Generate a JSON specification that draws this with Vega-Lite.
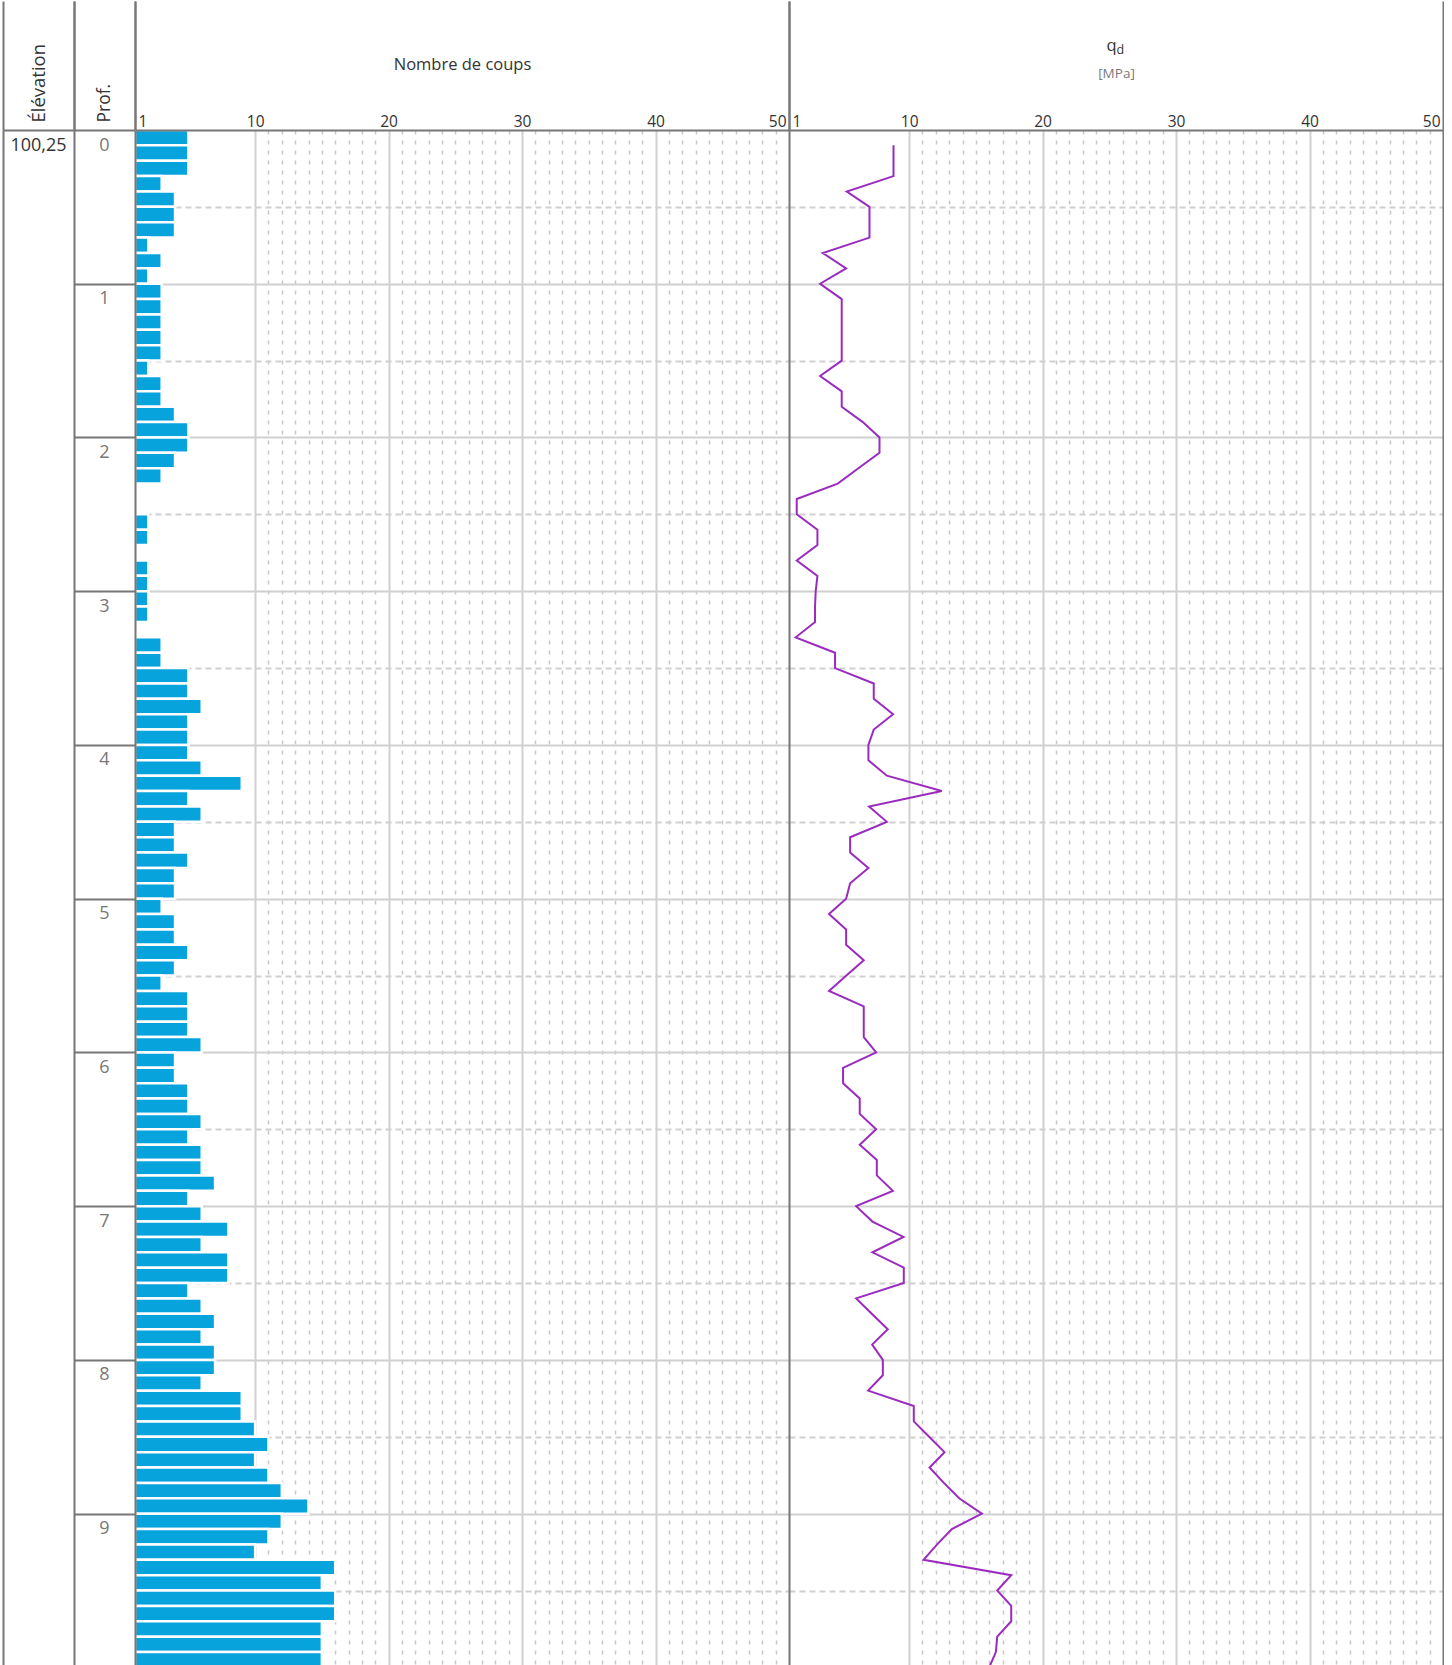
{
  "$schema": "https://vega.github.io/schema/vega-lite/v6.json",
  "padding": {"left": 2, "top": 0, "right": 0, "bottom": 0},
  "bounds": "flush",
  "spacing": 0,
  "config": {"view": {"stroke": null}, "font": "Open Sans", "axis": {"minExtent": 0}},
  "datasets": {
    "sondage": [
      {"z0":0.0,"z1":0.1,"n":5,"qd":8.83},{"z0":0.1,"z1":0.2,"n":5,"qd":8.83},{"z0":0.2,"z1":0.3,"n":5,"qd":8.83},{"z0":0.3,"z1":0.4,"n":3,"qd":5.33},{"z0":0.4,"z1":0.5,"n":4,"qd":7.03},
      {"z0":0.5,"z1":0.6,"n":4,"qd":7.03},{"z0":0.6,"z1":0.7,"n":4,"qd":7.03},{"z0":0.7,"z1":0.8,"n":2,"qd":3.53},{"z0":0.8,"z1":0.9,"n":3,"qd":5.28},{"z0":0.9,"z1":1.0,"n":2,"qd":3.33},
      {"z0":1.0,"z1":1.1,"n":3,"qd":4.95},{"z0":1.1,"z1":1.2,"n":3,"qd":4.95},{"z0":1.2,"z1":1.3,"n":3,"qd":4.95},{"z0":1.3,"z1":1.4,"n":3,"qd":4.95},{"z0":1.4,"z1":1.5,"n":3,"qd":4.95},
      {"z0":1.5,"z1":1.6,"n":2,"qd":3.33},{"z0":1.6,"z1":1.7,"n":3,"qd":4.95},{"z0":1.7,"z1":1.8,"n":3,"qd":4.95},{"z0":1.8,"z1":1.9,"n":4,"qd":6.53},{"z0":1.9,"z1":2.0,"n":5,"qd":7.78},
      {"z0":2.0,"z1":2.1,"n":5,"qd":7.78},{"z0":2.1,"z1":2.2,"n":4,"qd":6.2},{"z0":2.2,"z1":2.3,"n":3,"qd":4.65},{"z0":2.3,"z1":2.4,"n":1,"qd":1.58},{"z0":2.4,"z1":2.5,"n":1,"qd":1.58},
      {"z0":2.5,"z1":2.6,"n":2,"qd":3.13},{"z0":2.6,"z1":2.7,"n":2,"qd":3.13},{"z0":2.7,"z1":2.8,"n":1,"qd":1.58},{"z0":2.8,"z1":2.9,"n":2,"qd":3.13},{"z0":2.9,"z1":3.0,"n":2,"qd":3.0},
      {"z0":3.0,"z1":3.1,"n":2,"qd":2.95},{"z0":3.1,"z1":3.2,"n":2,"qd":2.95},{"z0":3.2,"z1":3.3,"n":1,"qd":1.5},{"z0":3.3,"z1":3.4,"n":3,"qd":4.45},{"z0":3.4,"z1":3.5,"n":3,"qd":4.45},
      {"z0":3.5,"z1":3.6,"n":5,"qd":7.35},{"z0":3.6,"z1":3.7,"n":5,"qd":7.35},{"z0":3.7,"z1":3.8,"n":6,"qd":8.8},{"z0":3.8,"z1":3.9,"n":5,"qd":7.35},{"z0":3.9,"z1":4.0,"n":5,"qd":6.95},
      {"z0":4.0,"z1":4.1,"n":5,"qd":6.95},{"z0":4.1,"z1":4.2,"n":6,"qd":8.33},{"z0":4.2,"z1":4.3,"n":9,"qd":12.45},{"z0":4.3,"z1":4.4,"n":5,"qd":7.0},{"z0":4.4,"z1":4.5,"n":6,"qd":8.33},
      {"z0":4.5,"z1":4.6,"n":4,"qd":5.58},{"z0":4.6,"z1":4.7,"n":4,"qd":5.58},{"z0":4.7,"z1":4.8,"n":5,"qd":6.95},{"z0":4.8,"z1":4.9,"n":4,"qd":5.58},{"z0":4.9,"z1":5.0,"n":4,"qd":5.28},
      {"z0":5.0,"z1":5.1,"n":3,"qd":4.0},{"z0":5.1,"z1":5.2,"n":4,"qd":5.28},{"z0":5.2,"z1":5.3,"n":4,"qd":5.28},{"z0":5.3,"z1":5.4,"n":5,"qd":6.6},{"z0":5.4,"z1":5.5,"n":4,"qd":5.3},
      {"z0":5.5,"z1":5.6,"n":3,"qd":4.0},{"z0":5.6,"z1":5.7,"n":5,"qd":6.6},{"z0":5.7,"z1":5.8,"n":5,"qd":6.6},{"z0":5.8,"z1":5.9,"n":5,"qd":6.6},{"z0":5.9,"z1":6.0,"n":6,"qd":7.53},
      {"z0":6.0,"z1":6.1,"n":4,"qd":5.05},{"z0":6.1,"z1":6.2,"n":4,"qd":5.05},{"z0":6.2,"z1":6.3,"n":5,"qd":6.3},{"z0":6.3,"z1":6.4,"n":5,"qd":6.3},{"z0":6.4,"z1":6.5,"n":6,"qd":7.53},
      {"z0":6.5,"z1":6.6,"n":5,"qd":6.3},{"z0":6.6,"z1":6.7,"n":6,"qd":7.58},{"z0":6.7,"z1":6.8,"n":6,"qd":7.58},{"z0":6.8,"z1":6.9,"n":7,"qd":8.78},{"z0":6.9,"z1":7.0,"n":5,"qd":6.03},
      {"z0":7.0,"z1":7.1,"n":6,"qd":7.25},{"z0":7.1,"z1":7.2,"n":8,"qd":9.58},{"z0":7.2,"z1":7.3,"n":6,"qd":7.25},{"z0":7.3,"z1":7.4,"n":8,"qd":9.6},{"z0":7.4,"z1":7.5,"n":8,"qd":9.6},
      {"z0":7.5,"z1":7.6,"n":5,"qd":6.03},{"z0":7.6,"z1":7.7,"n":6,"qd":7.2},{"z0":7.7,"z1":7.8,"n":7,"qd":8.4},{"z0":7.8,"z1":7.9,"n":6,"qd":7.23},{"z0":7.9,"z1":8.0,"n":7,"qd":8.03},
      {"z0":8.0,"z1":8.1,"n":7,"qd":8.03},{"z0":8.1,"z1":8.2,"n":6,"qd":6.93},{"z0":8.2,"z1":8.3,"n":9,"qd":10.35},{"z0":8.3,"z1":8.4,"n":9,"qd":10.35},{"z0":8.4,"z1":8.5,"n":10,"qd":11.5},
      {"z0":8.5,"z1":8.6,"n":11,"qd":12.65},{"z0":8.6,"z1":8.7,"n":10,"qd":11.53},{"z0":8.7,"z1":8.8,"n":11,"qd":12.6},{"z0":8.8,"z1":8.9,"n":12,"qd":13.75},{"z0":8.9,"z1":9.0,"n":14,"qd":15.45},
      {"z0":9.0,"z1":9.1,"n":12,"qd":13.2},{"z0":9.1,"z1":9.2,"n":11,"qd":12.1},{"z0":9.2,"z1":9.3,"n":10,"qd":11.08},{"z0":9.3,"z1":9.4,"n":16,"qd":17.65},{"z0":9.4,"z1":9.5,"n":15,"qd":16.6},
      {"z0":9.5,"z1":9.6,"n":16,"qd":17.65},{"z0":9.6,"z1":9.7,"n":16,"qd":17.65},{"z0":9.7,"z1":9.8,"n":15,"qd":16.6},{"z0":9.8,"z1":9.9,"n":15,"qd":16.5},{"z0":9.9,"z1":10.0,"n":15,"qd":16.0}
    ],
    "prof": [{"m":0},{"m":1},{"m":2},{"m":3},{"m":4},{"m":5},{"m":6},{"m":7},{"m":8},{"m":9}],
    "elev": [{"z":0,"t":"100,25"}]
  },
  "resolve": {"scale": {"x": "independent", "y": "independent"}},
  "hconcat": [
    {
      "width": 71, "height": 1535,
      "resolve": {"axis": {"x": "independent", "y": "independent"}},
      "layer": [
        {
          "data": {"name": "elev"},
          "mark": {"type": "text", "fontSize": 18, "color": "#333", "baseline": "alphabetic", "dy": 20.5},
          "encoding": {
            "x": {"datum": 0.5, "type": "quantitative", "scale": {"domain": [0, 1]},
              "axis": {"orient": "top", "values": [0, 1], "domain": false, "labels": false, "grid": false, "title": null,
                "ticks": true, "tickSize": 129, "tickWidth": 2, "tickColor": "#777"}},
            "y": {"field": "z", "type": "quantitative", "scale": {"domain": [0, 9.9844], "reverse": true, "nice": false, "zero": false},
              "axis": {"orient": "left", "domain": true, "domainColor": "#777", "domainWidth": 2, "ticks": false, "labels": false, "grid": false, "title": null, "zindex": 1}},
            "text": {"field": "t"}
          }
        },
        {
          "data": {"name": "elev"},
          "transform": [{"filter": "false"}],
          "mark": "point",
          "encoding": {
            "x": {"datum": 0.5, "type": "quantitative", "scale": {"domain": [0, 1]},
              "axis": {"orient": "top", "domain": true, "domainColor": "#777", "domainWidth": 2, "ticks": false, "labels": false, "grid": false,
                "title": "Élévation", "titleAngle": 270, "titleAlign": "left", "titleBaseline": "middle", "titleAnchor": "middle",
                "titlePadding": 8, "titleFontSize": 18.5, "titleFontWeight": "normal", "titleColor": "#333", "titleFont": "Open Sans", "zindex": 1}}
          }
        }
      ]
    },
    {
      "width": 61, "height": 1535,
      "resolve": {"axis": {"x": "independent", "y": "independent"}},
      "layer": [
        {
          "data": {"name": "prof"},
          "mark": {"type": "text", "fontSize": 18, "color": "#777", "baseline": "alphabetic", "dy": 20.5},
          "encoding": {
            "x": {"datum": 0.5, "type": "quantitative", "scale": {"domain": [0, 1]},
              "axis": {"orient": "top", "values": [0, 1], "domain": false, "labels": false, "grid": false, "title": null,
                "ticks": true, "tickSize": 129, "tickWidth": 2, "tickColor": "#777"}},
            "y": {"field": "m", "type": "quantitative", "scale": {"domain": [0, 9.9844], "reverse": true, "nice": false, "zero": false},
              "axis": {"orient": "left", "values": [1, 2, 3, 4, 5, 6, 7, 8, 9], "domain": true, "domainColor": "#777", "domainWidth": 2, "ticks": false, "labels": false,
                "grid": true, "gridColor": "#777", "gridWidth": 2, "title": null}},
            "text": {"field": "m", "type": "quantitative", "format": "d"}
          }
        },
        {
          "data": {"name": "prof"},
          "transform": [{"filter": "false"}],
          "mark": "point",
          "encoding": {
            "x": {"datum": 0.5, "type": "quantitative", "scale": {"domain": [0, 1]},
              "axis": {"orient": "top", "domain": true, "domainColor": "#777", "domainWidth": 2, "ticks": false, "labels": false, "grid": false,
                "title": "Prof.", "titleAngle": 270, "titleAlign": "left", "titleBaseline": "middle", "titleAnchor": "middle",
                "titlePadding": 8, "titleFontSize": 17.5, "titleFontWeight": "normal", "titleColor": "#333", "titleFont": "Open Sans", "zindex": 1}}
          }
        }
      ]
    },
    {
      "width": 654, "height": 1535,
      "data": {"name": "sondage"},
      "resolve": {"axis": {"x": "independent", "y": "independent"}},
      "layer": [
        {
          "mark": {"type": "bar", "color": "#06a3dc", "stroke": "#ffffff", "strokeWidth": 2.5, "clip": true},
          "encoding": {
            "x": {"field": "n", "type": "quantitative", "scale": {"domain": [1, 50], "nice": false, "zero": false},
              "axis": {"orient": "top", "values": [1,10,11,12,13,14,15,16,17,18,19,20,21,22,23,24,25,26,27,28,29,30,31,32,33,34,35,36,37,38,39,40,41,42,43,44,45,46,47,48,49,50],
                "domain": false, "labels": false, "title": null,
                "ticks": true, "tickSize": 129, "tickWidth": 2, "tickColor": "#777",
                "tickOpacity": {"condition": {"test": "datum.value == 1 || datum.value == 50", "value": 1}, "value": 0},
                "grid": true,
                "gridOpacity": {"condition": {"test": "datum.value == 1 || datum.value == 50", "value": 0}, "value": 1},
                "gridColor": {"condition": {"test": "datum.value % 10 == 0", "value": "#d0d0d0"}, "value": "#c8c8c8"},
                "gridWidth": {"condition": {"test": "datum.value % 10 == 0", "value": 2}, "value": 1.5},
                "gridDash": {"condition": {"test": "datum.value % 10 == 0", "value": [1, 0]}, "value": [4, 6]}}},
            "x2": {"datum": 1},
            "y": {"field": "z0", "type": "quantitative", "scale": {"domain": [0, 9.9844], "reverse": true, "nice": false, "zero": false},
              "axis": {"orient": "left", "values": [0.5,1,1.5,2,2.5,3,3.5,4,4.5,5,5.5,6,6.5,7,7.5,8,8.5,9,9.5],
                "domain": false, "ticks": false, "labels": false, "title": null,
                "grid": true, "gridColor": "#d0d0d0", "gridWidth": 2,
                "gridDash": {"condition": {"test": "datum.value % 1 == 0", "value": [1, 0]}, "value": [6, 4]}}},
            "y2": {"field": "z1"}
          }
        },
        {
          "transform": [{"filter": "false"}],
          "mark": "point",
          "encoding": {
            "x": {"field": "n", "type": "quantitative", "scale": {"domain": [1, 50], "nice": false, "zero": false},
              "axis": {"orient": "top", "values": [1, 10, 20, 30, 40, 50], "ticks": false, "grid": false,
                "domain": true, "domainColor": "#777", "domainWidth": 2,
                "labels": true, "labelFont": "Open Sans", "labelFontSize": 15.5, "labelColor": "#333", "labelFlush": true, "labelFlushOffset": -3,
                "labelPadding": 4, "labelBaseline": "alphabetic", "title": null, "zindex": 1}},
            "y": {"field": "z0", "type": "quantitative", "scale": {"domain": [0, 9.9844], "reverse": true, "nice": false, "zero": false},
              "axis": {"orient": "left", "domain": true, "domainColor": "#777", "domainWidth": 2, "ticks": false, "labels": false, "grid": false, "title": null, "zindex": 1}}
          }
        },
        {
          "transform": [{"filter": "false"}],
          "mark": "point",
          "encoding": {
            "x": {"field": "n", "type": "quantitative", "scale": {"domain": [1, 50], "nice": false, "zero": false},
              "axis": {"orient": "top", "domain": false, "ticks": false, "labels": false, "grid": false,
                "title": "Nombre de coups", "titleFont": "Open Sans", "titleFontSize": 16.5, "titleFontWeight": "normal", "titleColor": "#333",
                "titleBaseline": "alphabetic", "titleAnchor": "middle", "titlePadding": 61}}
          }
        }
      ]
    },
    {
      "width": 654, "height": 1535,
      "data": {"name": "sondage"},
      "resolve": {"axis": {"x": "independent", "y": "independent"}},
      "layer": [
        {
          "mark": {"type": "line", "color": "#9b2bbf", "strokeWidth": 2, "clip": true},
          "encoding": {
            "x": {"field": "qd", "type": "quantitative", "scale": {"domain": [1, 50], "nice": false, "zero": false},
              "axis": {"orient": "top", "values": [1,10,11,12,13,14,15,16,17,18,19,20,21,22,23,24,25,26,27,28,29,30,31,32,33,34,35,36,37,38,39,40,41,42,43,44,45,46,47,48,49,50],
                "domain": false, "labels": false, "title": null,
                "ticks": true, "tickSize": 129, "tickWidth": 2, "tickColor": "#777",
                "tickOpacity": {"condition": {"test": "datum.value == 1 || datum.value == 50", "value": 1}, "value": 0},
                "grid": true,
                "gridOpacity": {"condition": {"test": "datum.value == 1 || datum.value == 50", "value": 0}, "value": 1},
                "gridColor": {"condition": {"test": "datum.value % 10 == 0", "value": "#d0d0d0"}, "value": "#c8c8c8"},
                "gridWidth": {"condition": {"test": "datum.value % 10 == 0", "value": 2}, "value": 1.5},
                "gridDash": {"condition": {"test": "datum.value % 10 == 0", "value": [1, 0]}, "value": [4, 6]}}},
            "y": {"field": "z1", "type": "quantitative", "scale": {"domain": [0, 9.9844], "reverse": true, "nice": false, "zero": false},
              "axis": {"orient": "left", "values": [0.5,1,1.5,2,2.5,3,3.5,4,4.5,5,5.5,6,6.5,7,7.5,8,8.5,9,9.5],
                "domain": false, "ticks": false, "labels": false, "title": null,
                "grid": true, "gridColor": "#d0d0d0", "gridWidth": 2,
                "gridDash": {"condition": {"test": "datum.value % 1 == 0", "value": [1, 0]}, "value": [6, 4]}}},
            "order": {"field": "z1", "type": "quantitative"}
          }
        },
        {
          "transform": [{"filter": "false"}],
          "mark": "point",
          "encoding": {
            "x": {"field": "qd", "type": "quantitative", "scale": {"domain": [1, 50], "nice": false, "zero": false},
              "axis": {"orient": "top", "values": [1, 10, 20, 30, 40, 50], "ticks": false, "grid": false,
                "domain": true, "domainColor": "#777", "domainWidth": 2,
                "labels": true, "labelFont": "Open Sans", "labelFontSize": 15.5, "labelColor": "#333", "labelFlush": true, "labelFlushOffset": -3,
                "labelPadding": 4, "labelBaseline": "alphabetic", "title": null, "zindex": 1}},
            "y": {"field": "z1", "type": "quantitative", "scale": {"domain": [0, 9.9844], "reverse": true, "nice": false, "zero": false},
              "axis": {"orient": "left", "domain": true, "domainColor": "#777", "domainWidth": 2, "ticks": false, "labels": false, "grid": false, "title": null, "zindex": 1}}
          }
        },
        {
          "transform": [{"filter": "false"}],
          "mark": "point",
          "encoding": {
            "x": {"field": "qd", "type": "quantitative", "scale": {"domain": [1, 50], "nice": false, "zero": false},
              "axis": {"orient": "top", "domain": false, "ticks": false, "labels": false, "grid": false,
                "title": "q", "titleFont": "Open Sans", "titleFontSize": 16.5, "titleFontWeight": "normal", "titleColor": "#333",
                "titleBaseline": "alphabetic", "titleAnchor": "middle", "titleAlign": "right", "titlePadding": 80}},
            "y": {"field": "z1", "type": "quantitative", "scale": {"domain": [0, 9.9844], "reverse": true, "nice": false, "zero": false},
              "axis": {"orient": "right", "domain": true, "domainColor": "#777", "domainWidth": 2, "ticks": false, "labels": false, "grid": false, "title": null, "zindex": 1}}
          }
        },
        {
          "transform": [{"filter": "false"}],
          "mark": "point",
          "encoding": {
            "x": {"field": "qd", "type": "quantitative", "scale": {"domain": [1, 50], "nice": false, "zero": false},
              "axis": {"orient": "top", "domain": false, "ticks": false, "labels": false, "grid": false,
                "title": "d", "titleFont": "Open Sans", "titleFontSize": 12.5, "titleFontWeight": "normal", "titleColor": "#333",
                "titleBaseline": "alphabetic", "titleAnchor": "middle", "titleAlign": "left", "titlePadding": 77}}
          }
        },
        {
          "transform": [{"filter": "false"}],
          "mark": "point",
          "encoding": {
            "x": {"field": "qd", "type": "quantitative", "scale": {"domain": [1, 50], "nice": false, "zero": false},
              "axis": {"orient": "top", "domain": false, "ticks": false, "labels": false, "grid": false,
                "title": "[MPa]", "titleFont": "Open Sans", "titleFontSize": 13.5, "titleFontWeight": "normal", "titleColor": "#7a7a7a",
                "titleBaseline": "alphabetic", "titleAnchor": "middle", "titlePadding": 53}}
          }
        }
      ]
    }
  ]
}
